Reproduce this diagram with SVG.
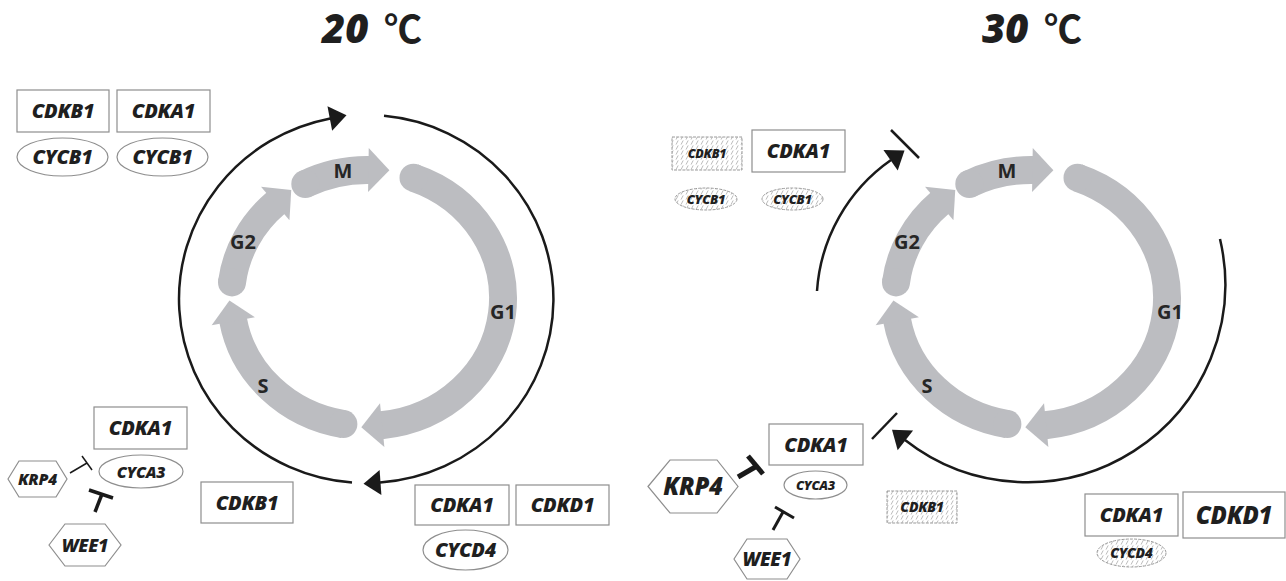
<svg xmlns="http://www.w3.org/2000/svg" width="1286" height="581" viewBox="0 0 1286 581">
  <style>
    .band { fill: none; stroke: #bcbdc1; stroke-width: 28; stroke-linecap: butt; }
    .phase { font-family: "Open Sans", "Liberation Sans", sans-serif; font-weight: 700; font-size: 20px; fill: #262626; text-anchor: middle; }
    .flow { fill: none; stroke: #1a1a1a; stroke-width: 2.5; }
    .block { fill: none; stroke: #1a1a1a; stroke-linecap: butt; }
    .box { fill: #fff; stroke: #8e8e8e; stroke-width: 1.2; }
    .hbox { fill: url(#hatch); stroke: #9a9a9a; stroke-width: 1; stroke-dasharray: 3 1.2; }
    .lbl { font-family: "Open Sans", "Liberation Sans", sans-serif; font-weight: 800; font-style: italic; fill: #1f1f1f; text-anchor: middle; letter-spacing: -0.3px; }
    .title { font-family: "Open Sans", "Liberation Sans", sans-serif; font-weight: 800; font-style: italic; font-size: 40px; fill: #1f1f1f; }
    .deg { font-family: "Noto Sans CJK JP", sans-serif; font-weight: 700; font-size: 38px; fill: #1f1f1f; }
  </style>
  <defs>
    <marker id="cap" markerUnits="userSpaceOnUse" markerWidth="30" markerHeight="30" refX="15" refY="15" overflow="visible">
      <circle cx="15" cy="15" r="14" fill="#bcbdc1"/>
    </marker>
    <marker id="head" markerUnits="userSpaceOnUse" orient="auto" markerWidth="22" markerHeight="46" refX="1" refY="23" overflow="visible">
      <path d="M0,1 L21,23 L0,45 Z" fill="#bcbdc1"/>
    </marker>
    <marker id="tip" markerUnits="userSpaceOnUse" orient="auto" markerWidth="18" markerHeight="26" refX="0.5" refY="13" overflow="visible">
      <path d="M0,0.5 L17,13 L0,25.5 Z" fill="#1a1a1a"/>
    </marker>
    <pattern id="hatch" patternUnits="userSpaceOnUse" width="5" height="5">
      <rect width="5" height="5" fill="#fff"/>
      <line x1="1" y1="4.6" x2="3.2" y2="0.4" stroke="#b4b4b4" stroke-width="0.9"/>
    </pattern>
  </defs>

  <rect width="1286" height="581" fill="#fff"/>

  <!-- titles -->
  <g id="title-20">
    <text class="title" x="322" y="43">20</text>
    <text class="deg" x="384" y="43">℃</text>
  </g>
  <g id="title-30">
    <text class="title" x="982" y="43">30</text>
    <text class="deg" x="1044" y="43">℃</text>
  </g>

  <!-- cell cycle phases, 20 °C -->
  <g id="phases-20">
    <path class="band" d="M305.3,184.0 A136,128 0 0 1 369.4,170.0" marker-start="url(#cap)" marker-end="url(#head)"/>
    <path class="band" d="M413.5,177.7 A136,128 0 0 1 381.2,425.3" marker-start="url(#cap)" marker-end="url(#head)"/>
    <path class="band" d="M343.4,424.1 A136,128 0 0 1 233.1,320.2" marker-start="url(#cap)" marker-end="url(#head)"/>
    <path class="band" d="M232.0,282.4 A136,128 0 0 1 276.0,202.9" marker-start="url(#cap)" marker-end="url(#head)"/>
    <text class="phase" x="343" y="178">M</text>
    <text class="phase" x="243" y="249">G2</text>
    <text class="phase" x="503" y="319">G1</text>
    <text class="phase" x="263" y="393">S</text>
  </g>

  <!-- cell cycle phases, 30 °C -->
  <g id="phases-30" transform="translate(664,0)">
    <path class="band" d="M305.3,184.0 A136,128 0 0 1 369.4,170.0" marker-start="url(#cap)" marker-end="url(#head)"/>
    <path class="band" d="M413.5,177.7 A136,128 0 0 1 381.2,425.3" marker-start="url(#cap)" marker-end="url(#head)"/>
    <path class="band" d="M343.4,424.1 A136,128 0 0 1 233.1,320.2" marker-start="url(#cap)" marker-end="url(#head)"/>
    <path class="band" d="M232.0,282.4 A136,128 0 0 1 276.0,202.9" marker-start="url(#cap)" marker-end="url(#head)"/>
    <text class="phase" x="343" y="178">M</text>
    <text class="phase" x="243" y="249">G2</text>
    <text class="phase" x="506" y="319">G1</text>
    <text class="phase" x="263" y="393">S</text>
  </g>

  <!-- connectors -->
  <g id="connectors">
    <!-- 20 °C progression -->
    <path class="flow" d="M352.0,482.5 A187,184 0 0 1 330.3,118.4" marker-end="url(#tip)"/>
    <path class="flow" d="M384.0,115.8 A187,184 0 0 1 380.0,482.5" marker-end="url(#tip)"/>
    <!-- 20 °C inhibitions -->
    <line class="block" x1="70" y1="473" x2="87" y2="463" stroke-width="1.5"/>
    <line class="block" x1="82" y1="456" x2="92" y2="470" stroke-width="1.5"/>
    <line class="block" x1="95" y1="512" x2="102" y2="494" stroke-width="3.5"/>
    <line class="block" x1="89" y1="490" x2="113" y2="498" stroke-width="3.5"/>
    <!-- 30 °C progression, blocked -->
    <path class="flow" d="M817,291 A174,174 0 0 1 891,160" marker-end="url(#tip)"/>
    <line class="block" x1="891" y1="130" x2="919" y2="158" stroke-width="2.5"/>
    <path class="flow" d="M1220,239 A198,198 0 0 1 905,440" marker-end="url(#tip)"/>
    <line class="block" x1="872" y1="439" x2="897" y2="413" stroke-width="2.5"/>
    <!-- 30 °C inhibitions -->
    <line class="block" x1="738" y1="477" x2="757" y2="466" stroke-width="5"/>
    <line class="block" x1="748" y1="456" x2="763" y2="474" stroke-width="5"/>
    <line class="block" x1="773" y1="530" x2="783" y2="512" stroke-width="3"/>
    <line class="block" x1="775" y1="507" x2="794" y2="518" stroke-width="3"/>
  </g>

  <!-- 20 °C complexes -->
  <g id="cdkb1-m-20">
    <rect class="box" x="17" y="90" width="92" height="42"/>
    <text class="lbl" x="63" y="118" font-size="20">CDKB1</text>
  </g>
  <g id="cdka1-m-20">
    <rect class="box" x="117" y="90" width="93" height="42"/>
    <text class="lbl" x="163.5" y="118" font-size="20">CDKA1</text>
  </g>
  <g id="cycb1-a-20">
    <ellipse class="box" cx="62.5" cy="157" rx="45.5" ry="19"/>
    <text class="lbl" x="62.5" y="164" font-size="20">CYCB1</text>
  </g>
  <g id="cycb1-b-20">
    <ellipse class="box" cx="162.5" cy="157" rx="45.5" ry="19"/>
    <text class="lbl" x="162.5" y="164" font-size="20">CYCB1</text>
  </g>
  <g id="cdka1-s-20">
    <rect class="box" x="94" y="407" width="93" height="42"/>
    <text class="lbl" x="140.5" y="435" font-size="20">CDKA1</text>
  </g>
  <g id="cyca3-20">
    <ellipse class="box" cx="141" cy="471.5" rx="42" ry="16.5"/>
    <text class="lbl" x="141" y="477.5" font-size="16">CYCA3</text>
  </g>
  <g id="krp4-20">
    <polygon class="box" points="8,479 19,461 56,461 67,479 56,497 19,497"/>
    <text class="lbl" x="37.5" y="485" font-size="16">KRP4</text>
  </g>
  <g id="wee1-20">
    <polygon class="box" points="49,545 65,524 105,524 121,545 105,566 65,566"/>
    <text class="lbl" x="85" y="551.5" font-size="18">WEE1</text>
  </g>
  <g id="cdkb1-s-20">
    <rect class="box" x="201" y="482" width="92" height="41"/>
    <text class="lbl" x="247" y="509.5" font-size="20">CDKB1</text>
  </g>
  <g id="cdka1-g1-20">
    <rect class="box" x="415" y="485" width="94" height="40"/>
    <text class="lbl" x="462" y="512" font-size="20">CDKA1</text>
  </g>
  <g id="cdkd1-20">
    <rect class="box" x="516" y="485" width="93" height="40"/>
    <text class="lbl" x="562.5" y="512" font-size="20">CDKD1</text>
  </g>
  <g id="cycd4-20">
    <ellipse class="box" cx="465.5" cy="550" rx="42.5" ry="20"/>
    <text class="lbl" x="465.5" y="557" font-size="20">CYCD4</text>
  </g>

  <!-- 30 °C complexes -->
  <g id="cdkb1-m-30">
    <rect class="hbox" x="672" y="137" width="70" height="33"/>
    <text class="lbl" x="707" y="158" font-size="12.5">CDKB1</text>
  </g>
  <g id="cdka1-m-30">
    <rect class="box" x="752" y="130" width="93" height="42"/>
    <text class="lbl" x="798.5" y="158" font-size="20">CDKA1</text>
  </g>
  <g id="cycb1-a-30">
    <ellipse class="hbox" cx="706" cy="199" rx="31" ry="11"/>
    <text class="lbl" x="706" y="203.5" font-size="13">CYCB1</text>
  </g>
  <g id="cycb1-b-30">
    <ellipse class="hbox" cx="792.5" cy="199" rx="30.5" ry="11"/>
    <text class="lbl" x="792.5" y="203.5" font-size="13">CYCB1</text>
  </g>
  <g id="cdka1-s-30">
    <rect class="box" x="769" y="424" width="94" height="41"/>
    <text class="lbl" x="816" y="451.5" font-size="20">CDKA1</text>
  </g>
  <g id="cyca3-30">
    <ellipse class="box" cx="815.5" cy="485" rx="31.5" ry="14"/>
    <text class="lbl" x="815.5" y="489.5" font-size="13">CYCA3</text>
  </g>
  <g id="krp4-30">
    <polygon class="box" points="648,486.5 670,460 717,460 738,486.5 717,513 670,513"/>
    <text class="lbl" x="693" y="495" font-size="24">KRP4</text>
  </g>
  <g id="wee1-30">
    <polygon class="box" points="734,559 747,539 787,539 800,559 787,579 747,579"/>
    <text class="lbl" x="767" y="566" font-size="19">WEE1</text>
  </g>
  <g id="cdkb1-s-30">
    <rect class="hbox" x="887" y="491" width="70" height="32"/>
    <text class="lbl" x="922" y="512" font-size="14">CDKB1</text>
  </g>
  <g id="cdka1-g1-30">
    <rect class="box" x="1085" y="494" width="93" height="42"/>
    <text class="lbl" x="1131.5" y="522" font-size="20">CDKA1</text>
  </g>
  <g id="cdkd1-30">
    <rect class="box" x="1183" y="492" width="102" height="46"/>
    <text class="lbl" x="1234" y="524" font-size="24">CDKD1</text>
  </g>
  <g id="cycd4-30">
    <ellipse class="hbox" cx="1131.5" cy="553" rx="34.5" ry="14"/>
    <text class="lbl" x="1131.5" y="558" font-size="14">CYCD4</text>
  </g>
</svg>
